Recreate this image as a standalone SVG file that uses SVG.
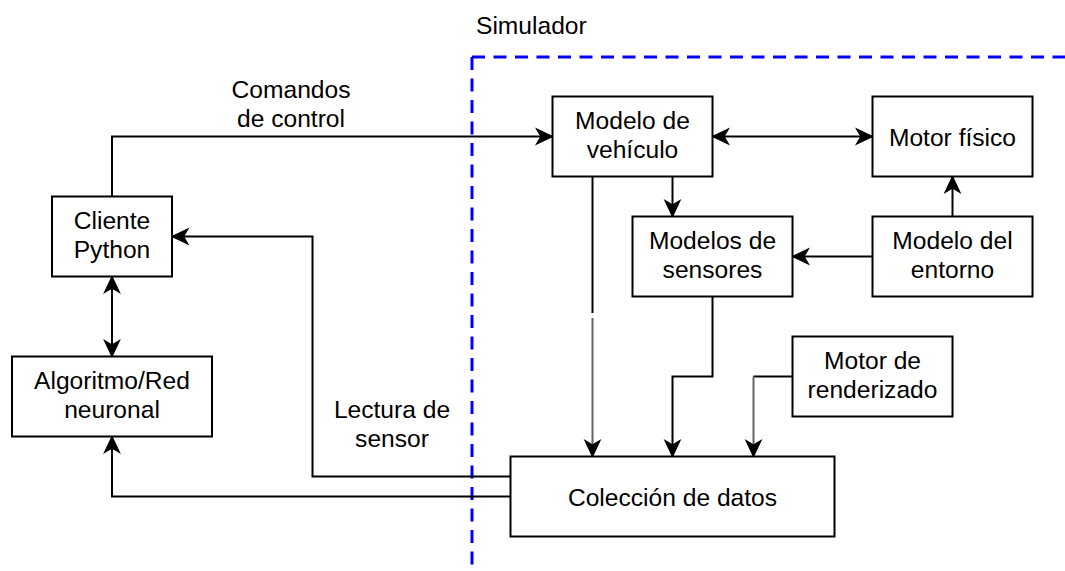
<svg xmlns="http://www.w3.org/2000/svg" width="1065" height="571" viewBox="0 0 1065 571">
  <style>
    .box { fill: #ffffff; stroke: #000000; stroke-width: 2; }
    .lbl { font-family: "Liberation Sans", Arial, sans-serif; font-size: 24.6px; fill: #000000; text-anchor: middle; }
    .edge { fill: none; stroke: #000000; stroke-width: 2; }
    .soft { stroke: #646464; }
    .sim { fill: none; stroke: #0000ff; stroke-width: 3; stroke-dasharray: 13 8.5; }
  </style>
  <defs>
    <marker id="arrow" viewBox="-19 -10 21 20" markerWidth="21" markerHeight="20" refX="0" refY="0" orient="auto-start-reverse" markerUnits="userSpaceOnUse">
      <path d="M0,0 L-16,-7.5 L-11.5,0 L-16,7.5 Z" fill="#000000" stroke="#000000" stroke-width="1.2" stroke-linejoin="miter"/>
    </marker>
  </defs>
  <rect width="1065" height="571" fill="#ffffff"/>

  <!-- simulator boundary -->
  <g id="simulador">
    <path class="sim" d="M472,57 H1065"/>
    <path class="sim" d="M472,57 V571"/>
    <text class="lbl" x="476" y="34" style="text-anchor:start">Simulador</text>
  </g>

  <!-- connectors -->
  <g id="connectors">
    <path class="edge" d="M112,196.5 V136.5 H552.5" marker-end="url(#arrow)"/>
    <path class="edge" d="M712.5,136.5 H872.5" marker-start="url(#arrow)" marker-end="url(#arrow)"/>
    <path class="edge" d="M672.5,176.5 V216.5" marker-end="url(#arrow)"/>
    <path class="edge" d="M872.5,256.5 H792.5" marker-end="url(#arrow)"/>
    <path class="edge" d="M952.5,216.5 V176.5" marker-end="url(#arrow)"/>
    <path class="edge" d="M592.5,176.5 V313"/>
    <path class="edge soft" d="M592.5,318 V456.5" marker-end="url(#arrow)"/>
    <path class="edge" d="M712.5,296.5 V376.5 H672.5 V456.5" marker-end="url(#arrow)"/>
    <path class="edge" d="M792.5,376.5 H753.5"/>
    <path class="edge soft" d="M753.5,376.5 V456.5" marker-end="url(#arrow)"/>
    <path class="edge" d="M510.5,476.5 H312.5 V236.5 H172" marker-end="url(#arrow)"/>
    <path class="edge" d="M510.5,496.5 H112 V436.5" marker-end="url(#arrow)"/>
    <path class="edge" d="M112,276.5 V356.5" marker-start="url(#arrow)" marker-end="url(#arrow)"/>
    <text class="lbl" x="291" y="97.5">Comandos</text>
    <text class="lbl" x="291" y="126.5">de control</text>
    <text class="lbl" x="392" y="418">Lectura de</text>
    <text class="lbl" x="392" y="447">sensor</text>
  </g>

  <g id="modelo-vehiculo">
    <rect class="box" x="552.5" y="96.5" width="160" height="80"/>
    <text class="lbl" x="632.5" y="128.5">Modelo de</text>
    <text class="lbl" x="632.5" y="157.5">vehículo</text>
  </g>
  <g id="motor-fisico">
    <rect class="box" x="872.5" y="96.5" width="160" height="80"/>
    <text class="lbl" x="952.5" y="145.5">Motor físico</text>
  </g>
  <g id="modelos-sensores">
    <rect class="box" x="632.5" y="216.5" width="160" height="80"/>
    <text class="lbl" x="712.5" y="248.5">Modelos de</text>
    <text class="lbl" x="712.5" y="277.5">sensores</text>
  </g>
  <g id="modelo-entorno">
    <rect class="box" x="872.5" y="216.5" width="160" height="80"/>
    <text class="lbl" x="952.5" y="248.5">Modelo del</text>
    <text class="lbl" x="952.5" y="277.5">entorno</text>
  </g>
  <g id="cliente-python">
    <rect class="box" x="52" y="196.5" width="120" height="80"/>
    <text class="lbl" x="112" y="228.5">Cliente</text>
    <text class="lbl" x="112" y="257.5">Python</text>
  </g>
  <g id="algoritmo">
    <rect class="box" x="12" y="356.5" width="200" height="80"/>
    <text class="lbl" x="112" y="388.5">Algoritmo/Red</text>
    <text class="lbl" x="112" y="417.5">neuronal</text>
  </g>
  <g id="motor-render">
    <rect class="box" x="792.5" y="336.5" width="160" height="80"/>
    <text class="lbl" x="872.5" y="368.5">Motor de</text>
    <text class="lbl" x="872.5" y="397.5">renderizado</text>
  </g>
  <g id="coleccion-datos">
    <rect class="box" x="510.5" y="456.5" width="324" height="80"/>
    <text class="lbl" x="672.5" y="505.5">Colección de datos</text>
  </g>
</svg>
